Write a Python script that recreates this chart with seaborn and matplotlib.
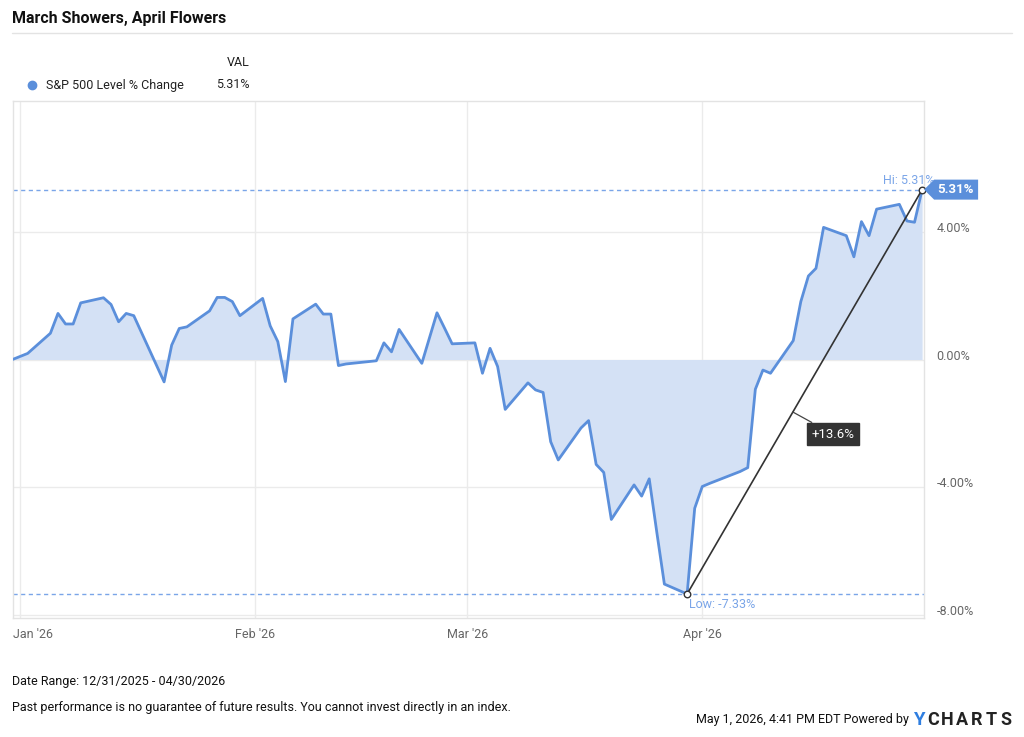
import matplotlib
matplotlib.use("Agg")
import matplotlib.pyplot as plt
import matplotlib.dates as mdates
from matplotlib.lines import Line2D
from matplotlib.patches import Polygon
from matplotlib.transforms import ScaledTranslation
import seaborn as sns
import numpy as np
import pandas as pd

# S&P 500 level % change, trading days 12/31/2025 - 04/30/2026
dates = [
    "2025-12-31",
    "2026-01-02", "2026-01-05", "2026-01-06", "2026-01-07", "2026-01-08", "2026-01-09",
    "2026-01-12", "2026-01-13", "2026-01-14", "2026-01-15", "2026-01-16",
    "2026-01-20", "2026-01-21", "2026-01-22", "2026-01-23",
    "2026-01-26", "2026-01-27", "2026-01-28", "2026-01-29", "2026-01-30",
    "2026-02-02", "2026-02-03", "2026-02-04", "2026-02-05", "2026-02-06",
    "2026-02-09", "2026-02-10", "2026-02-11", "2026-02-12", "2026-02-13",
    "2026-02-17", "2026-02-18", "2026-02-19", "2026-02-20",
    "2026-02-23", "2026-02-24", "2026-02-25", "2026-02-26", "2026-02-27",
    "2026-03-02", "2026-03-03", "2026-03-04", "2026-03-05", "2026-03-06",
    "2026-03-09", "2026-03-10", "2026-03-11", "2026-03-12", "2026-03-13",
    "2026-03-16", "2026-03-17", "2026-03-18", "2026-03-19", "2026-03-20",
    "2026-03-23", "2026-03-24", "2026-03-25", "2026-03-26", "2026-03-27",
    "2026-03-30", "2026-03-31", "2026-04-01", "2026-04-02",
    "2026-04-06", "2026-04-07", "2026-04-08", "2026-04-09", "2026-04-10",
    "2026-04-13", "2026-04-14", "2026-04-15", "2026-04-16", "2026-04-17",
    "2026-04-20", "2026-04-21", "2026-04-22", "2026-04-23", "2026-04-24",
    "2026-04-27", "2026-04-28", "2026-04-29", "2026-04-30",
]
pct_change = [
    0.00,
    0.19, 0.82, 1.44, 1.11, 1.11, 1.77,
    1.93, 1.72, 1.18, 1.44, 1.37,
    -0.70, 0.45, 0.97, 1.02,
    1.52, 1.94, 1.94, 1.81, 1.37,
    1.91, 1.05, 0.56, -0.69, 1.27,
    1.73, 1.42, 1.42, -0.19, -0.14,
    -0.04, 0.52, 0.24, 0.94,
    -0.12, 0.67, 1.46, 0.98, 0.49,
    0.52, -0.43, 0.35, -0.22, -1.56,
    -0.73, -0.95, -1.03, -2.57, -3.14,
    -2.14, -1.91, -3.28, -3.53, -5.00,
    -3.92, -4.27, -3.73, -5.40, -7.02,
    -7.33, -4.65, -3.97, -3.87,
    -3.50, -3.38, -0.93, -0.33, -0.43,
    0.59, 1.81, 2.61, 2.85, 4.13,
    3.87, 3.21, 4.31, 3.87, 4.70,
    4.85, 4.33, 4.29, 5.31,
]
month_ticks = ["2026-01-01", "2026-02-01", "2026-03-01", "2026-04-01"]
month_labels = ["Jan '26", "Feb '26", "Mar '26", "Apr '26"]
y_ticks = [-8, -4, 0, 4]
y_tick_labels = ["-8.00%", "-4.00%", "0.00%", "4.00%"]

df = pd.DataFrame({"date": pd.to_datetime(dates), "val": pct_change})

LINE = "#5b8fdb"
FILL = "#d4e1f5"
LABEL_BLUE = "#7aa5e8"
GRID = "#ebebeb"
TXT = "#666666"

sns.set_theme(style="white")
plt.rcParams["font.family"] = ["Roboto", "DejaVu Sans"]

W, H = 1024, 737
fig = plt.figure(figsize=(W / 100, H / 100), dpi=100)
fig.patch.set_facecolor("white")

left, right, top, bottom = 12.5, 924, 101, 618
ax = fig.add_axes([left / W, 1 - bottom / H, (right - left) / W, (bottom - top) / H])

ax.fill_between(df["date"], df["val"], 0, color=FILL, linewidth=0, zorder=1)
sns.lineplot(data=df, x="date", y="val", ax=ax, color=LINE, linewidth=2, zorder=3)

ax.set_xlim(df["date"].iloc[0], df["date"].iloc[-1] + pd.Timedelta(hours=6))
ax.set_ylim(-8.08, 8.08)

# grid
ax.set_xticks(pd.to_datetime(month_ticks))
ax.set_xticklabels(month_labels)
ax.set_yticks(y_ticks)
ax.set_yticklabels(y_tick_labels)
ax.grid(True, color=GRID, linewidth=1, zorder=0)
ax.set_axisbelow(True)
ax.yaxis.tick_right()
ax.tick_params(axis="both", length=0, labelsize=9, labelcolor=TXT)
ax.tick_params(axis="y", pad=9)
ax.tick_params(axis="x", pad=7)
ax.set_xlabel("")
ax.set_ylabel("")
for s in ax.spines.values():
    s.set_color("#e3e3e3")
    s.set_linewidth(1)

for lab in ax.get_yticklabels():
    lab.set_transform(lab.get_transform() + ScaledTranslation(0, 5 / 100, fig.dpi_scale_trans))
first = ax.get_xticklabels()[0]
first.set_horizontalalignment("left")
first.set_transform(first.get_transform() + ScaledTranslation(-7 / 100, 0, fig.dpi_scale_trans))

# hi / low
i_hi = int(np.argmax(pct_change))
i_lo = int(np.argmin(pct_change))
hi_d, hi_v = df["date"].iloc[i_hi], pct_change[i_hi]
lo_d, lo_v = df["date"].iloc[i_lo], pct_change[i_lo]

for v in (hi_v, lo_v):
    ax.axhline(v, color=LABEL_BLUE, linestyle=(0, (3, 2.5)), linewidth=1, zorder=2)
ax.annotate(f"Hi: {hi_v:.2f}%", (hi_d, hi_v), xytext=(12, 3), textcoords="offset pixels",
            ha="right", va="bottom", fontsize=9, color=LABEL_BLUE, annotation_clip=False)
ax.annotate(f"Low: {lo_v:.2f}%", (lo_d, lo_v), xytext=(2, -4), textcoords="offset pixels",
            ha="left", va="top", fontsize=9, color=LABEL_BLUE)

# low-to-high line
ax.plot([lo_d, hi_d], [lo_v, hi_v], color="#333333", linewidth=1.2, zorder=4)
ax.scatter([lo_d, hi_d], [lo_v, hi_v], s=22, facecolor="white", edgecolor="#333333",
           linewidth=1, zorder=5, clip_on=False)
gain = ((1 + hi_v / 100) / (1 + lo_v / 100) - 1) * 100
frac = 0.45
mid_d = lo_d + (hi_d - lo_d) * frac
mid_v = lo_v + (hi_v - lo_v) * frac
ax.annotate(f"+{gain:.1f}%", (mid_d, mid_v), xytext=(40, -22), textcoords="offset pixels",
            ha="center", va="center", fontsize=9.5, color="white",
            bbox=dict(boxstyle="square,pad=0.35", fc="#333333", ec="#333333"),
            arrowprops=dict(arrowstyle="-", color="#444444", lw=0.9, shrinkA=0, shrinkB=0),
            zorder=6)

# value tag on the right axis
px, py = ax.transData.transform((mdates.date2num(hi_d), hi_v))
tag = np.array([[px + 2, py], [px + 12, py + 10], [px + 56, py + 10],
                [px + 56, py - 10], [px + 12, py - 10]])
tag = fig.transFigure.inverted().transform(tag)
fig.add_artist(Polygon(tag, closed=True, fc=LINE, ec="none"))
fig.text((px + 33) / W, py / H, f"{hi_v:.2f}%", ha="center", va="center",
         fontsize=9.5, fontweight="bold", color="white")

# title and legend
fig.text(12 / W, 1 - 18 / H, "March Showers, April Flowers", fontsize=11.5,
         fontweight="bold", color="#111111", va="center", ha="left")
fig.add_artist(Line2D([12 / W, 1012 / W], [1 - 33 / H, 1 - 33 / H], color="#e3e3e3", lw=1))
fig.text(250 / W, 1 - 63 / H, "VAL", fontsize=9, color="#222222", ha="right", va="center")
fig.add_artist(Line2D([32 / W], [1 - 85 / H], marker="o", markersize=6, color=LINE, lw=0))
fig.text(46 / W, 1 - 85 / H, "S&P 500 Level % Change", fontsize=9, color="#222222",
         ha="left", va="center")
fig.text(250 / W, 1 - 85 / H, f"{pct_change[-1]:.2f}%", fontsize=9, color="#222222",
         ha="right", va="center")

# footer
fig.text(12 / W, 1 - 682 / H, "Date Range: 12/31/2025 - 04/30/2026", fontsize=9,
         color="#111111", ha="left", va="center")
fig.text(12 / W, 1 - 708 / H,
         "Past performance is no guarantee of future results. You cannot invest directly in an index.",
         fontsize=9, color="#111111", ha="left", va="center")
fig.text(909 / W, 1 - 720 / H, "May 1, 2026, 4:41 PM EDT Powered by", fontsize=9,
         color="#111111", ha="right", va="center")
fig.text(913 / W, 1 - 720 / H, "Y", fontsize=13.5, fontweight="bold", color="#2f7ee0",
         ha="left", va="center")
for k, ch in enumerate("CHARTS"):
    fig.text((933 + k * 14.6) / W, 1 - 720 / H, ch, fontsize=13, fontweight="bold",
             color="#222222", ha="center", va="center")

fig.savefig("out.png", dpi=100, facecolor="white")
